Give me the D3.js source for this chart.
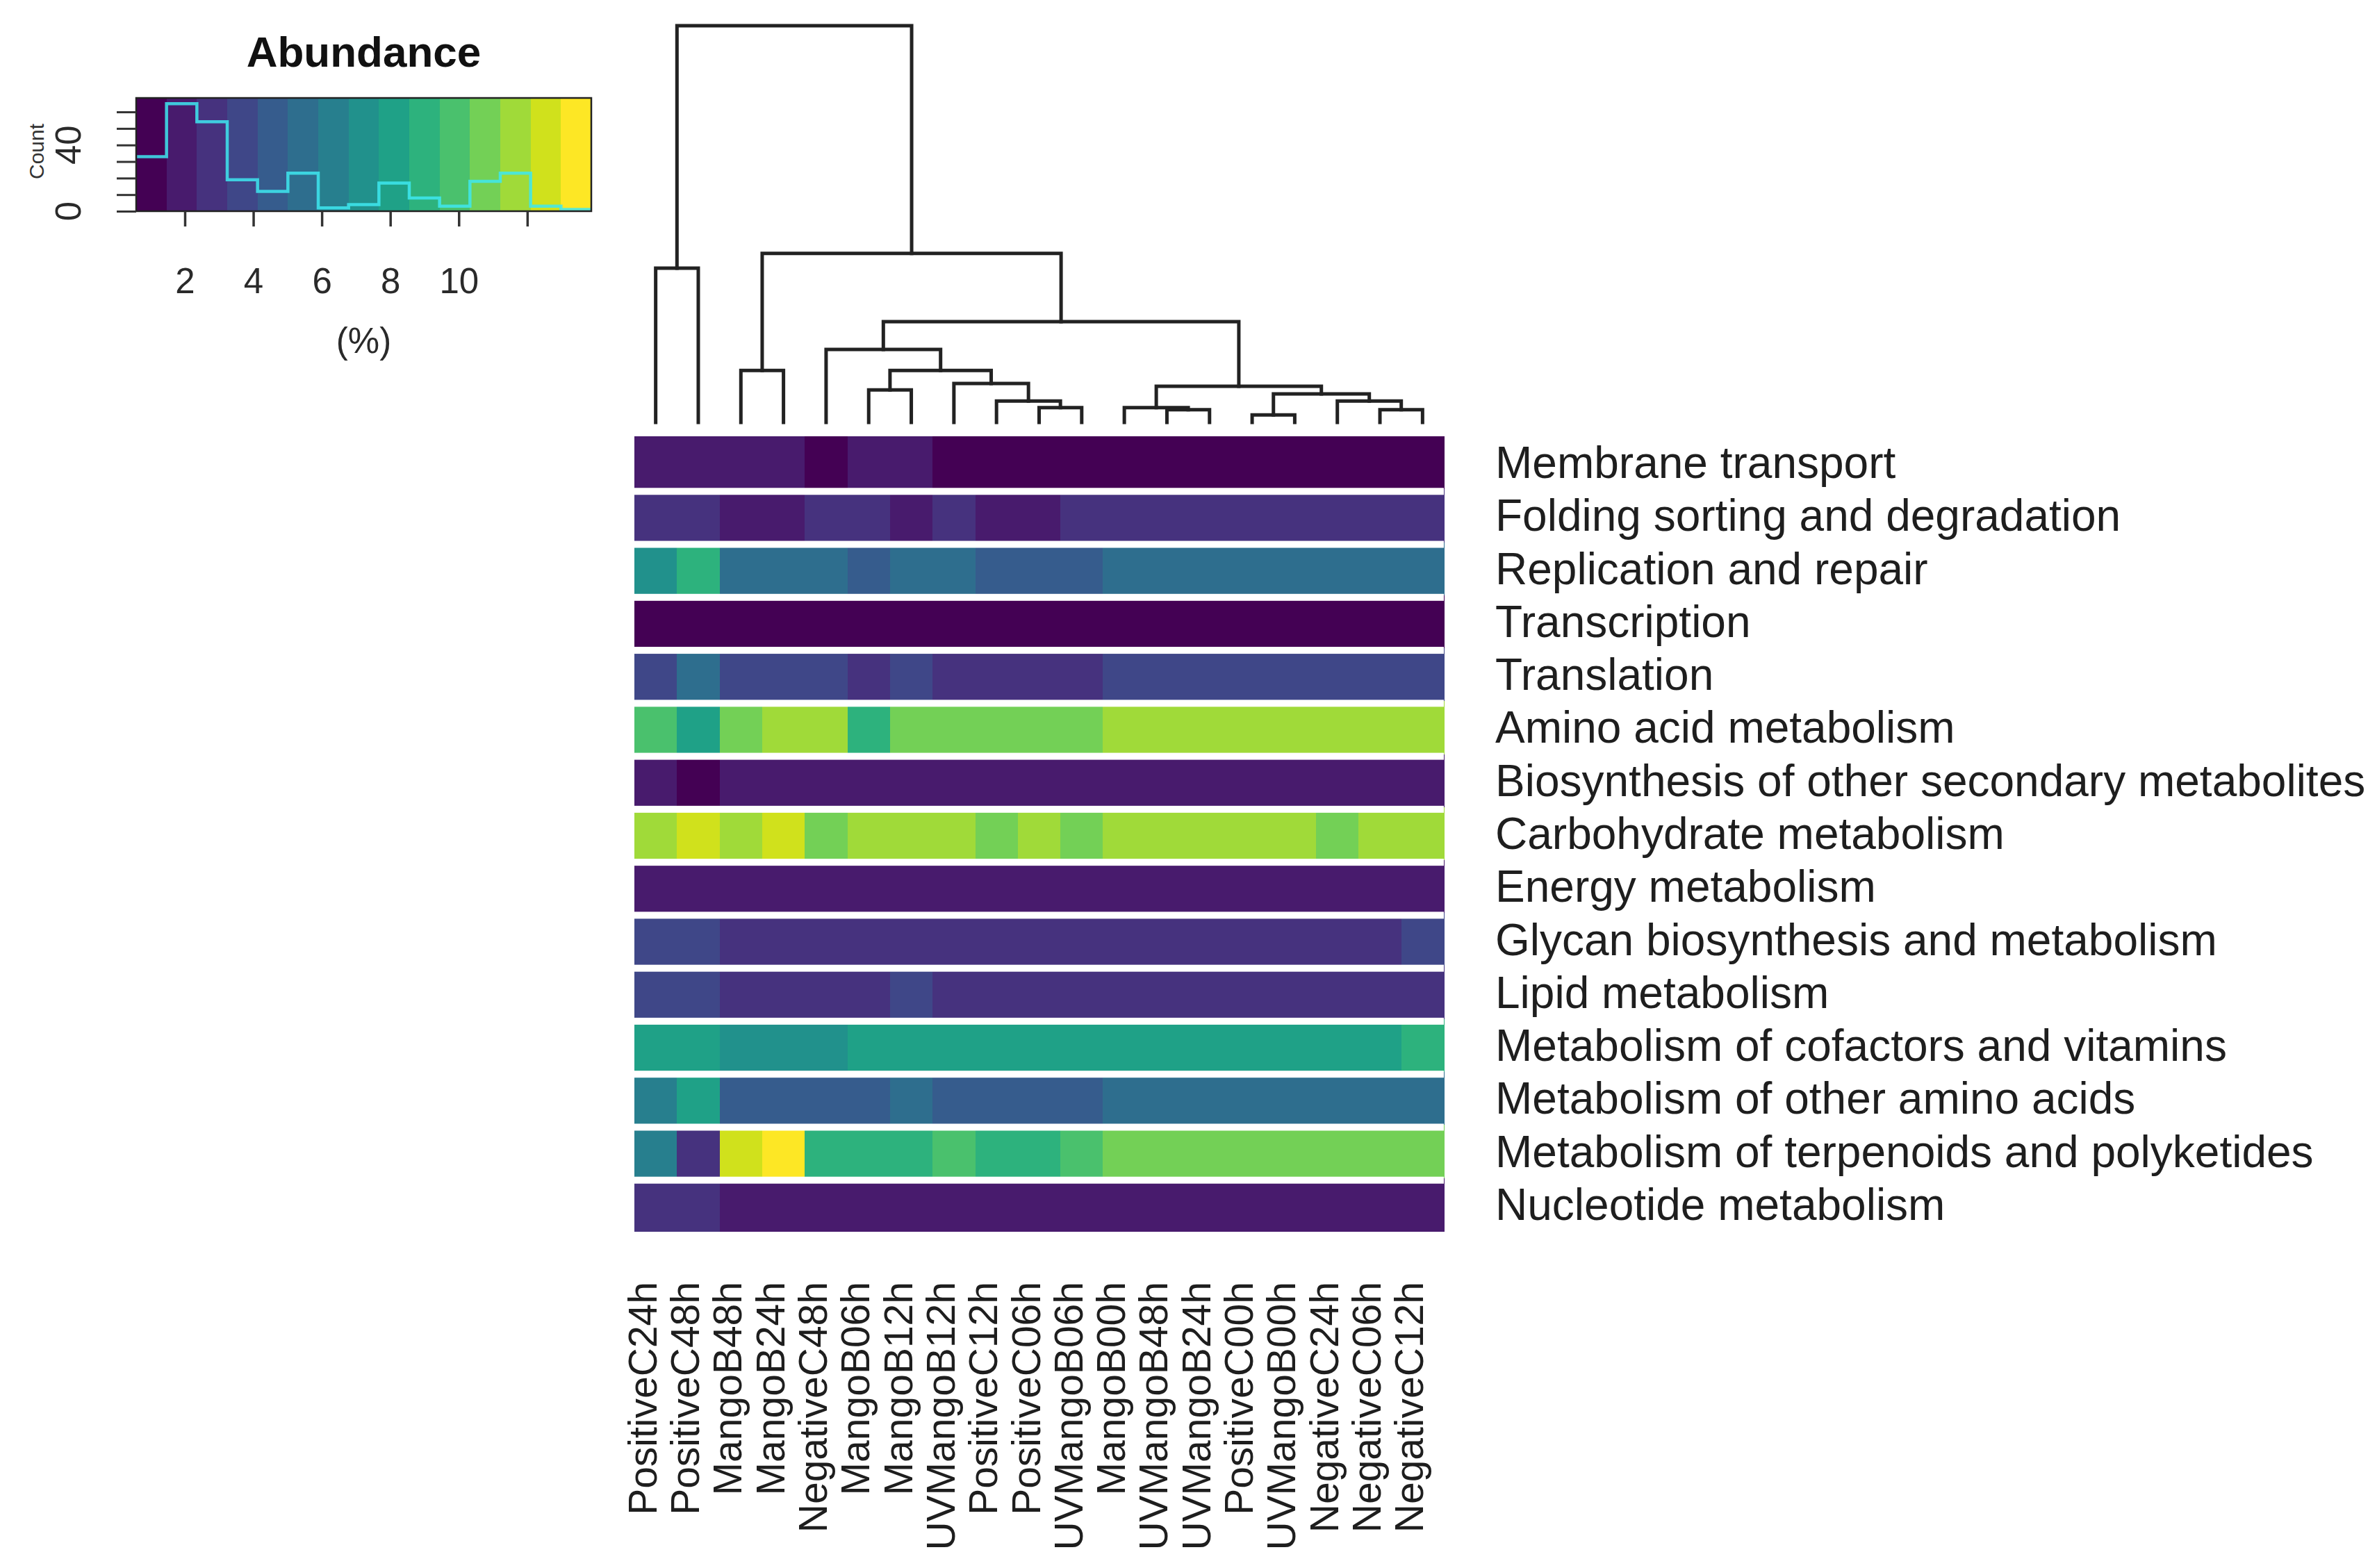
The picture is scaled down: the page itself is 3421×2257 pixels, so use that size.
<!DOCTYPE html>
<html><head><meta charset="utf-8">
<script src="https://cdn.jsdelivr.net/npm/d3@7"></script>
<style>body{margin:0;background:#fff;} svg{display:block;}</style>
</head><body><svg id="chart" width="3421" height="2257"></svg>
<script>
// ---------------- DATA ----------------
const rowLabels = [
  "Membrane transport","Folding sorting and degradation","Replication and repair","Transcription",
  "Translation","Amino acid metabolism","Biosynthesis of other secondary metabolites",
  "Carbohydrate metabolism","Energy metabolism","Glycan biosynthesis and metabolism",
  "Lipid metabolism","Metabolism of cofactors and vitamins","Metabolism of other amino acids",
  "Metabolism of terpenoids and polyketides","Nucleotide metabolism"];

const colLabels = ["PositiveC24h","PositiveC48h","MangoB48h","MangoB24h","NegativeC48h","MangoB06h",
  "MangoB12h","UVMangoB12h","PositiveC12h","PositiveC06h","UVMangoB06h","MangoB00h","UVMangoB48h",
  "UVMangoB24h","PositiveC00h","UVMangoB00h","NegativeC24h","NegativeC06h","NegativeC12h"];

// abundance (%) : one array per row (pathway), values in column order above
const membraneTransport = [1.95,2.02,1.88,1.84,1.21,1.93,1.80,1.12,1.05,1.10,1.08,0.98,1.03,0.95,1.01,0.99,1.06,1.04,1.00];
const folding          = [2.86,3.02,2.12,2.20,2.71,2.78,2.18,2.90,2.25,2.21,2.74,2.83,2.79,2.81,2.85,2.77,2.82,2.88,2.80];
const replication      = [7.32,9.05,5.52,5.38,5.46,4.71,5.58,5.49,4.62,4.55,4.68,5.41,5.44,5.50,5.37,5.47,5.52,5.43,5.39];
const transcription    = [0.71,0.64,0.69,0.66,0.74,0.62,0.68,0.61,0.65,0.63,0.60,0.59,0.62,0.58,0.61,0.60,0.63,0.59,0.61];
const translation      = [3.78,5.35,3.71,3.66,3.59,3.10,3.74,3.05,2.98,3.01,3.08,3.62,3.65,3.60,3.58,3.63,3.67,3.61,3.64];
const aminoAcid        = [9.95,8.20,10.85,11.62,11.70,9.15,10.74,10.81,10.69,10.77,10.83,11.58,11.66,11.71,11.60,11.64,11.69,11.55,11.62];
const biosynthesis     = [2.05,1.18,1.94,1.90,1.98,1.88,1.92,1.86,1.95,1.91,1.89,1.87,1.93,1.90,1.85,1.88,1.96,1.92,1.89];
const carbohydrate     = [11.72,12.61,11.58,12.48,10.90,11.67,11.70,11.63,10.85,11.52,10.79,11.66,11.61,11.68,11.59,11.64,10.88,11.57,11.62];
const energy           = [1.97,1.92,1.89,1.94,1.91,1.88,1.93,1.90,1.95,1.87,1.92,1.89,1.94,1.91,1.90,1.93,1.88,1.92,1.90];
const glycan           = [3.72,3.66,2.91,2.85,2.88,2.83,2.95,2.86,2.89,2.84,2.87,2.82,2.90,2.85,2.88,2.86,2.84,2.99,3.70];
const lipid            = [3.70,3.64,2.94,2.89,2.86,2.92,3.58,2.88,2.85,2.90,2.87,2.84,2.89,2.86,2.83,2.88,2.85,2.87,2.91];
const cofactors        = [8.05,8.14,7.36,7.28,7.31,8.09,8.12,8.15,8.07,8.10,8.13,8.16,8.11,8.08,8.14,8.12,8.09,8.17,8.95];
const otherAminoAcids  = [6.31,8.18,4.61,4.54,4.66,4.58,5.41,4.63,4.52,4.57,4.60,5.47,5.44,5.50,5.42,5.46,5.48,5.43,5.45];
const terpenoids       = [6.40,2.98,12.52,13.87,8.95,9.02,8.98,9.91,9.04,8.97,9.86,10.80,10.76,10.82,10.74,10.79,10.77,10.81,10.75];
const nucleotide       = [2.83,2.78,1.93,1.90,1.96,1.89,1.92,1.88,1.94,1.91,1.87,1.90,1.93,1.89,1.92,1.88,1.91,1.90,1.94];

const matrix = [membraneTransport,folding,replication,transcription,translation,aminoAcid,biosynthesis,
  carbohydrate,energy,glycan,lipid,cofactors,otherAminoAcids,terpenoids,nucleotide];

// column dendrogram (hclust-like merges): negative = leaf (-(position+1)), positive = merge row (1-based)
const colMerge = [
  [-15,-16, 1.9],[-13,-14, 3.2],[-18,-19, 3.2],[-10,-11, 3.7],[-12, 2, 3.7],[-9, 4, 5.4],
  [-17, 3, 5.4],[1, 7, 7.2],[-6,-7, 8.2],[5, 8, 9.1],[-8, 6, 9.8],[9, 11, 13.1],
  [-3,-4, 13.1],[-5, 12, 18.4],[14, 10, 25.4],[-1,-2, 38.9],[13, 15, 42.6],[16, 17, 100]];

const nColours = 15;
const keyXTicks = [2,4,6,8,10,12];
const keyXTickLabels = ["2","4","6","8","10",""];
const keyYTicks = [0,10,20,30,40,50,60];
const keyYTickLabels = ["0","","","","40","",""];

// ---------------- DRAW ----------------
const svg = d3.select("#chart");
const font = "'Liberation Sans', Arial, sans-serif";
const ink = "#1e1e1e";

const hm = {x0: 913, x1: 2078, y0: 628, y1: 1772};
const x = d3.scaleBand().domain(colLabels).range([hm.x0, hm.x1]);
const y = d3.scaleBand().domain(rowLabels).range([hm.y0, hm.y1]);

const allVals = matrix.flat();
const ext = d3.extent(allVals);
const palette = d3.range(nColours).map(k => d3.interpolateViridis(k / (nColours - 1)));
const color = d3.scaleQuantize().domain(ext).range(palette);

// heatmap cells
const cells = [];
matrix.forEach((row, r) => row.forEach((v, c) => cells.push({r: rowLabels[r], c: colLabels[c], v})));
svg.append("g").selectAll("rect").data(cells).join("rect")
  .attr("x", d => x(d.c)).attr("y", d => y(d.r))
  .attr("width", x.bandwidth() + 0.6).attr("height", y.bandwidth() + 0.6)
  .attr("fill", d => color(d.v)).attr("shape-rendering", "crispEdges");

// row separators
svg.append("g").selectAll("rect").data(rowLabels.slice(1)).join("rect")
  .attr("x", hm.x0).attr("width", hm.x1 - hm.x0)
  .attr("y", d => y(d) - 2).attr("height", 10).attr("fill", "#fff");

// row labels
svg.append("g").selectAll("text").data(rowLabels).join("text")
  .attr("x", 2152).attr("y", d => y(d) + y.bandwidth() / 2 + 22)
  .attr("font-family", font).attr("font-size", 64).attr("fill", ink)
  .text(d => d);

// column labels
svg.append("g").selectAll("text").data(colLabels).join("text")
  .attr("transform", d => `translate(${x(d) + x.bandwidth() / 2 + 1},1845) rotate(-90)`)
  .attr("text-anchor", "end")
  .attr("font-family", font).attr("font-size", 57).attr("fill", ink)
  .text(d => d);

// dendrogram
const dy = d3.scaleLinear().domain([0, d3.max(colMerge, m => m[2])]).range([608, 37]);
const nodeX = [], nodeH = [];
function childPos(id) {
  if (id < 0) { const name = colLabels[-id - 1]; return [x(name) + x.bandwidth() / 2, 0]; }
  return [nodeX[id - 1], nodeH[id - 1]];
}
const dPaths = [];
colMerge.forEach((m, i) => {
  const [xl, hl] = childPos(m[0]);
  const [xr, hr] = childPos(m[1]);
  nodeX[i] = (xl + xr) / 2; nodeH[i] = m[2];
  dPaths.push(`M${xl},${dy(hl)}V${dy(m[2])}H${xr}V${dy(hr)}`);
});
svg.append("g").selectAll("path").data(dPaths).join("path")
  .attr("d", d => d).attr("fill", "none").attr("stroke", "#222")
  .attr("stroke-width", 5).attr("stroke-linecap", "square");

// ---------------- COLOUR KEY ----------------
const key = {x0: 196, x1: 851, y0: 141, y1: 304};
const kx = d3.scaleLinear().domain(ext).range([key.x0, key.x1]);
const breaks = d3.range(nColours + 1).map(i => ext[0] + (ext[1] - ext[0]) * i / nColours);
svg.append("g").selectAll("rect").data(palette).join("rect")
  .attr("x", (d, i) => kx(breaks[i])).attr("width", (d, i) => kx(breaks[i + 1]) - kx(breaks[i]) + 0.6)
  .attr("y", key.y0).attr("height", key.y1 - key.y0).attr("fill", d => d)
  .attr("shape-rendering", "crispEdges");

// histogram of cell values over the colour breaks
const counts = palette.map(p => allVals.filter(v => color(v) === p).length);
const maxCount = d3.max(counts);
const ky = d3.scaleLinear().domain([0, maxCount / 0.95]).range([key.y1, key.y0]);
const stepPts = breaks.map((b, i) => [b, counts[Math.min(i, counts.length - 1)]]);
svg.append("path")
  .attr("d", d3.line().x(d => kx(d[0])).y(d => ky(d[1])).curve(d3.curveStepAfter)(stepPts))
  .attr("fill", "none").attr("stroke", "#3ee8f0").attr("stroke-opacity", 0.85).attr("stroke-width", 4.5);

svg.append("rect").attr("x", key.x0).attr("y", key.y0)
  .attr("width", key.x1 - key.x0).attr("height", key.y1 - key.y0)
  .attr("fill", "none").attr("stroke", "#222").attr("stroke-width", 2.5);

// key x axis
const gx = svg.append("g").attr("transform", `translate(0,${key.y1})`)
  .call(d3.axisBottom(kx).tickValues(keyXTicks).tickFormat((d, i) => keyXTickLabels[i]).tickSize(22).tickPadding(60));
gx.select(".domain").remove();
gx.selectAll("line").attr("stroke", "#333").attr("stroke-width", 3.5);
gx.selectAll("text").attr("font-family", font).attr("font-size", 51).attr("fill", "#2a2a2a");

// key y axis
const gy = svg.append("g").attr("transform", `translate(${key.x0},0)`)
  .call(d3.axisLeft(ky).tickValues(keyYTicks).tickFormat("").tickSize(28));
gy.select(".domain").remove();
gy.selectAll("line").attr("stroke", "#333").attr("stroke-width", 3);
svg.append("g").selectAll("text").data(keyYTicks.filter((d, i) => keyYTickLabels[i] !== "")).join("text")
  .attr("transform", d => `translate(116,${ky(d)}) rotate(-90)`)
  .attr("text-anchor", "middle").attr("font-family", font).attr("font-size", 51).attr("fill", "#2a2a2a")
  .text(d => keyYTickLabels[keyYTicks.indexOf(d)]);

svg.append("text").attr("transform", "translate(63,218) rotate(-90)")
  .attr("text-anchor", "middle").attr("font-family", font).attr("font-size", 30).attr("fill", "#333")
  .text("Count");

svg.append("text").attr("x", (key.x0 + key.x1) / 2).attr("y", 508)
  .attr("text-anchor", "middle").attr("font-family", font).attr("font-size", 51).attr("fill", "#2a2a2a")
  .text("(%)");

svg.append("text").attr("x", (key.x0 + key.x1) / 2).attr("y", 96)
  .attr("text-anchor", "middle").attr("font-family", font).attr("font-weight", "bold")
  .attr("font-size", 62).attr("fill", "#111").text("Abundance");
</script></body></html>
